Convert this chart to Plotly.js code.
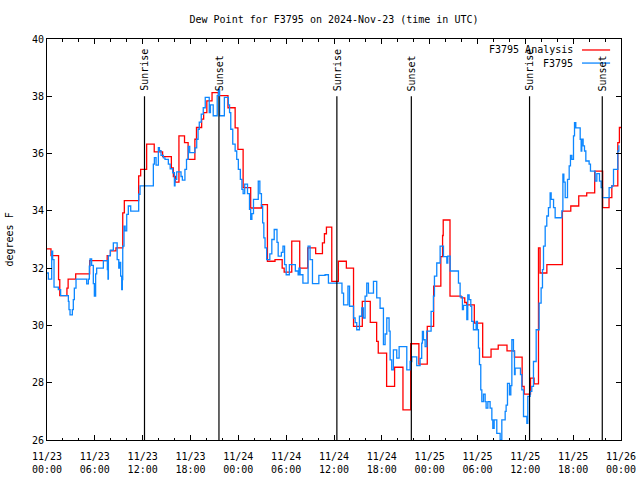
<!DOCTYPE html>
<html>
<head>
<meta charset="utf-8">
<script src="https://cdn.plot.ly/plotly-3.0.1.min.js"></script>
<style>html,body{margin:0;padding:0;background:#fff;}#chart{width:640px;height:480px;}</style>
</head>
<body>
<div id="chart"></div>
<script>
// Hours after 2024-11-23 00:00 UTC
const redHours = [0,0.5,1.45,1.6,2.5,2.65,3.6,5.35,7.55,7.95,8.65,9.5,9.7,11.5,11.75,12.5,13.45,14.5,15.6,15.85,16.1,16.55,17.25,17.7,18.55,18.75,19.4,19.65,20.05,20.7,21.5,22.7,23.6,23.95,24.6,25.55,26.9,27.65,28.6,29.5,29.75,30.7,31.7,32.7,33.7,34.55,34.8,35.05,35.72,36.55,37.55,38.45,39.55,40.55,41.35,41.55,42.6,43.6,44.65,45.62,46.65,47.7,48.5,49.4,49.62,49.7,50.55,51.95,52.4,52.66,53.6,54.65,55.7,56.6,57.7,58.64,59.6,59.85,60.65,61.1,61.65,61.85,62.7,64.65,65.7,66.7,67.7,68.7,69.7,70.5,70.85,71.6,71.8,72];
const redValues = [32.67,32.44,31.6,31.04,31.3,31.62,31.8,32.26,32.44,32.6,32.71,33.93,34.36,35.22,35.45,36.33,36.06,35.89,35.5,35.2,35.0,36.62,36.38,35.8,36.5,36.91,37.2,37.43,37.84,38.13,38.02,37.6,36.9,36.15,34.81,34.1,34.22,32.24,32.3,32.0,31.86,32.94,32.0,32.71,32.51,32.88,33.2,33.43,31.54,32.24,32.0,29.97,30.84,30.11,29.44,29.03,27.87,28.54,27.05,29.36,28.65,29.97,31.37,32.4,33.14,33.68,31.02,30.96,30.8,30.72,30.08,28.89,29.17,29.31,29.11,28.89,27.87,27.6,28.16,27.96,32.71,31.83,32.12,33.99,34.17,34.52,34.63,35.39,34.11,34.46,34.87,36.38,36.91,36.91];

const blueHours = [0,0.17,0.59,0.71,0.88,1.42,1.71,2.68,2.76,2.89,3.18,3.3,3.43,3.64,4.98,5.19,5.31,5.4,5.6,5.81,5.94,6.1,6.23,7.07,7.57,7.65,7.7,7.95,8.32,8.8,9.0,9.15,9.24,9.37,9.45,9.5,9.66,9.8,10.0,10.2,10.5,11.5,11.67,13.34,13.47,13.68,13.97,14.1,14.3,14.6,14.8,15.22,15.45,15.77,15.98,16.06,16.27,16.81,16.98,17.3,17.5,17.73,17.9,18.55,18.78,18.95,19.1,19.35,19.6,19.85,20.35,20.5,20.85,21.35,21.5,21.65,22.25,22.75,22.9,23.05,23.3,23.6,23.8,24.0,24.25,24.45,24.6,24.8,25.15,25.4,25.55,25.7,25.9,26.5,26.7,26.9,27.05,27.2,27.35,27.55,27.95,28.2,28.5,28.85,29.0,29.4,29.6,29.8,30.0,30.4,31.15,31.5,31.6,31.75,32.1,32.75,33.0,33.3,34.1,34.88,35.3,37.0,37.2,37.75,37.95,38.45,38.65,38.85,39.19,39.48,39.69,39.9,40.11,40.32,40.95,41.36,41.78,42.2,42.41,42.62,42.91,43.04,43.24,43.45,43.87,44.17,45.13,45.55,45.76,46.38,46.8,47.0,47.09,47.22,47.43,47.63,48.18,48.47,48.6,48.89,49.31,49.73,50.15,50.27,50.57,51.61,51.82,52.11,52.24,52.66,52.78,52.95,53.16,53.28,53.49,53.83,53.99,54.12,54.25,54.41,54.54,54.75,54.96,55.08,55.3,55.58,55.8,55.92,56.09,56.42,56.84,57.05,57.47,57.59,57.76,58.01,58.18,58.31,58.51,58.64,58.72,59.39,59.56,59.77,60.19,60.31,60.6,60.81,61.02,61.36,61.73,61.98,62.15,62.28,62.49,62.69,62.9,63.11,63.24,63.54,63.74,64.58,64.71,64.83,65.0,65.29,65.5,65.66,65.83,66.04,66.17,66.33,66.88,67.0,67.08,67.25,67.42,67.59,68.0,68.17,68.76,68.97,69.3,69.51,69.68,70.51,70.85,71.06,71.6,71.73,71.81,72];
const blueValues = [31.83,31.62,32.59,32.3,31.34,31.25,31.04,30.84,30.55,30.37,30.55,30.9,31.3,31.62,31.45,31.62,32.07,32.32,32.1,31.46,31.02,31.8,32.0,32.26,31.95,31.62,32.44,32.63,32.88,32.3,32.0,32.2,31.72,31.25,31.6,32.77,33.47,33.3,33.88,34.17,33.99,34.58,34.87,35.63,35.86,35.6,36.21,36.1,35.94,35.85,35.8,35.63,35.47,35.33,34.87,35.1,35.36,35.2,35.07,35.45,35.8,36.25,36.03,36.2,36.5,36.85,37.1,37.38,37.6,37.96,37.43,37.7,37.32,38.02,38.25,37.32,37.96,37.7,37.43,36.85,36.33,36.09,35.8,35.45,35.1,34.75,34.6,34.93,34.6,34.05,33.7,33.9,34.4,35.04,34.6,34.17,33.58,33.06,32.71,32.3,32.5,33.0,33.35,32.9,32.42,32.55,32.77,32.12,31.77,32.12,31.9,31.77,32.0,31.77,31.48,32.77,32.3,31.46,31.75,31.77,31.48,31.13,30.72,31.37,30.67,30.26,30.1,29.85,30.32,30.61,30.26,31.02,31.48,31.13,31.54,30.96,30.6,29.33,29.7,30.26,29.8,28.8,28.45,29.15,28.86,29.26,28.45,28.74,28.9,28.6,28.85,29.38,29.79,29.5,29.26,29.8,30.49,31.02,31.72,32.18,32.77,32.4,32.18,32.42,31.9,31.48,31.0,30.55,30.7,30.2,31.07,30.9,30.67,30.14,29.85,30.14,29.85,29.21,28.63,27.75,27.34,27.6,27.34,27.11,27.34,27.11,26.7,26.41,26.7,26.23,26.0,26.7,27.0,27.22,27.98,27.58,27.9,29.5,29.1,28.28,28.51,28.28,27.75,26.82,26.58,27.52,27.7,27.87,28.74,29.85,30.78,31.31,31.95,32.77,33.47,33.82,34.11,34.63,34.4,34.11,33.76,34.0,35.28,35.0,34.46,35.1,35.57,35.94,35.8,36.62,37.08,36.9,36.5,36.09,36.5,36.27,36.09,35.74,35.63,35.39,35.04,35.3,35.04,34.81,34.46,34.81,34.87,35.45,36.09,36.27,36.27];

const tickHours = [0,6,12,18,24,30,36,42,48,54,60,66,72];
const tickLabels = ["11/23<br>00:00","11/23<br>06:00","11/23<br>12:00","11/23<br>18:00","11/24<br>00:00","11/24<br>06:00","11/24<br>12:00","11/24<br>18:00","11/25<br>00:00","11/25<br>06:00","11/25<br>12:00","11/25<br>18:00","11/26<br>00:00"];

const sunHours = [12.23,21.57,36.36,45.7,60.53,69.65];
const sunLabels = ["Sunrise","Sunset","Sunrise","Sunset","Sunrise","Sunset"];

const seriesNames = ["F3795 Analysis","F3795"];
const seriesColors = ["#ff0000","#0d87ff"];

const FONT = "DejaVu Sans Mono, monospace";

const traces = [
  {x: redHours, y: redValues, type: "scatter", mode: "lines", line: {shape: "hv", color: seriesColors[0], width: 1.3}, name: seriesNames[0], showlegend: false},
  {x: blueHours, y: blueValues, type: "scatter", mode: "lines", line: {shape: "hv", color: seriesColors[1], width: 1.3}, name: seriesNames[1], showlegend: false}
];

const shapes = sunHours.map(h => ({type: "line", xref: "x", yref: "y", x0: h, x1: h, y0: 26, y1: 38, line: {color: "#000", width: 1.2}, layer: "above"}));
const annotations = sunHours.map((h, i) => ({x: h, y: 38, xref: "x", yref: "y", text: sunLabels[i], showarrow: false, textangle: -90, xanchor: "center", yanchor: "bottom", yshift: 3, font: {family: FONT, size: 10, color: "#000"}}));

// legend (gnuplot style: text left of sample)
const legY = [0.9726, 0.940];
seriesNames.forEach((n, i) => {
  annotations.push({x: 0.9199, y: legY[i], xref: "paper", yref: "paper", text: n, showarrow: false, xanchor: "right", yanchor: "middle", font: {family: FONT, size: 10, color: "#000"}});
  shapes.push({type: "line", xref: "paper", yref: "paper", x0: 0.932, x1: 0.981, y0: legY[i], y1: legY[i], line: {color: seriesColors[i], width: 1.3}});
});

annotations.push({x: 0, y: 0.5, xref: "paper", yref: "paper", text: "degrees F", showarrow: false, textangle: -90, xanchor: "center", yanchor: "middle", xshift: -38, font: {family: FONT, size: 10, color: "#000"}});

const layout = {
  width: 640, height: 480,
  margin: {l: 47, r: 19, t: 39, b: 40, pad: 0},
  paper_bgcolor: "#fff", plot_bgcolor: "#fff",
  showlegend: false,
  title: {text: "Dew Point for F3795 on 2024-Nov-23 (time in UTC)", font: {family: FONT, size: 10, color: "#000"}, x: 0.5, xref: "paper", y: 1 - 19/480, yref: "container", yanchor: "middle"},
  xaxis: {range: [0, 72], tickvals: tickHours, ticktext: tickLabels, ticks: "inside", ticklen: 5, tickcolor: "#000", showline: true, linecolor: "#000", linewidth: 1, mirror: "ticks", showgrid: false, zeroline: false, ticklabelstandoff: 7, tickfont: {family: FONT, size: 10, color: "#000"},
          minor: {dtick: 2, tick0: 0, ticks: "inside", ticklen: 2.5, tickcolor: "#000", showgrid: false}},
  yaxis: {range: [26, 40], dtick: 2, tick0: 26, ticks: "inside", ticklen: 5, tickcolor: "#000", showline: true, linecolor: "#000", linewidth: 1, mirror: "ticks", showgrid: false, zeroline: false, tickfont: {family: FONT, size: 10, color: "#000"}},
  shapes: shapes,
  annotations: annotations
};

Plotly.newPlot("chart", traces, layout, {staticPlot: true, displayModeBar: false});
</script>
</body>
</html>
